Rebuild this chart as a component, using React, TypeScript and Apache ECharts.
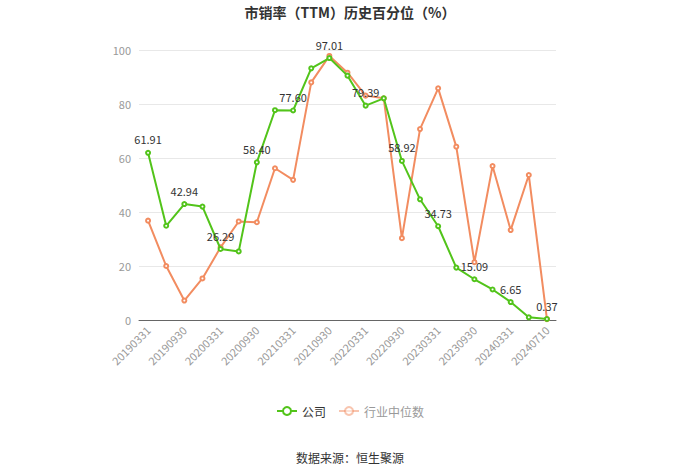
import React, { useEffect, useRef } from "react";
import * as echarts from "echarts";

const categories = [
  "20190331", "20190630", "20190930", "20191231",
  "20200331", "20200630", "20200930", "20201231",
  "20210331", "20210630", "20210930", "20211231",
  "20220331", "20220630", "20220930", "20221231",
  "20230331", "20230630", "20230930", "20231231",
  "20240331", "20240630", "20240710",
];

const companyValues = [
  61.91, 34.9, 42.94, 42.0, 26.29, 25.4, 58.4, 77.7, 77.6, 93.2, 97.01, 90.5,
  79.39, 82.1, 58.92, 44.7, 34.73, 19.4, 15.09, 11.3, 6.65, 1.0, 0.37,
];

const industryValues = [
  36.8, 20.0, 7.2, 15.4, 26.9, 36.5, 36.2, 56.2, 51.9, 88.0, 97.8, 91.6,
  83.1, 82.1, 30.3, 70.7, 85.8, 64.2, 21.4, 57.0, 33.3, 53.7, 0.3,
];

const yTicks = { min: 0, max: 100, interval: 20 };

export default function App() {
  const ref = useRef<HTMLDivElement>(null);
  useEffect(() => {
    if (!ref.current) return;
    const chart = echarts.init(ref.current, undefined, { renderer: "svg" });
    const font = "'Microsoft YaHei', 'Noto Sans CJK SC', sans-serif";
    chart.setOption({
      animation: false,
      textStyle: { fontFamily: font },
      title: {
        text: "市销率（TTM）历史百分位（%）",
        left: "center",
        top: 5,
        padding: 0,
        textStyle: { fontSize: 14, fontWeight: "bold", color: "#333", fontFamily: font },
      },
      grid: { left: 139, right: 144, top: 50, bottom: 154 },
      legend: {
        bottom: 52,
        left: "center",
        itemWidth: 20,
        itemHeight: 10,
        itemGap: 12,
        textStyle: { fontSize: 12, color: "#333", fontFamily: font },
        data: [
          { name: "公司" },
          {
            name: "行业中位数",
            textStyle: { color: "#999" },
            itemStyle: { opacity: 0.5 },
            lineStyle: { opacity: 0.5 },
          },
        ],
      },
      graphic: [
        {
          type: "text",
          left: "center",
          top: 451,
          style: {
            text: "数据来源：恒生聚源",
            fontSize: 12,
            fill: "#333",
            fontFamily: font,
          },
        },
      ],
      xAxis: {
        type: "category",
        data: categories,
        boundaryGap: true,
        axisLine: { lineStyle: { color: "#666" } },
        axisTick: { alignWithLabel: true, interval: 1, lineStyle: { color: "#666" } },
        axisLabel: {
          interval: 1,
          rotate: 45,
          color: "#999",
          fontSize: 11,
          fontFamily: font,
        },
      },
      yAxis: {
        type: "value",
        min: yTicks.min,
        max: yTicks.max,
        interval: yTicks.interval,
        axisLine: { show: false },
        axisTick: { show: false },
        axisLabel: { color: "#999", fontSize: 11, fontFamily: font },
        splitLine: { lineStyle: { color: "#e8e8e8" } },
      },
      series: [
        {
          name: "公司",
          type: "line",
          data: companyValues,
          color: "#52c41a",
          symbol: "emptyCircle",
          symbolSize: 4,
          lineStyle: { width: 2, color: "#52c41a" },
          itemStyle: { color: "#52c41a", borderWidth: 1.5 },
          label: {
            show: true,
            position: "top",
            color: "#333",
            fontSize: 11,
            fontFamily: font,
            formatter: (p: any) => (p.dataIndex % 2 === 0 ? p.value.toFixed(2) : ""),
          },
          z: 3,
        },
        {
          name: "行业中位数",
          type: "line",
          data: industryValues,
          color: "#f28c60",
          symbol: "emptyCircle",
          symbolSize: 4,
          lineStyle: { width: 2, color: "#f28c60" },
          itemStyle: { color: "#f28c60", borderWidth: 1.5 },
          z: 2,
        },
      ],
    });
    return () => chart.dispose();
  }, []);
  return (
    <div
      ref={ref}
      style={{ position: "absolute", left: 0, top: 0, width: 700, height: 474 }}
    />
  );
}
